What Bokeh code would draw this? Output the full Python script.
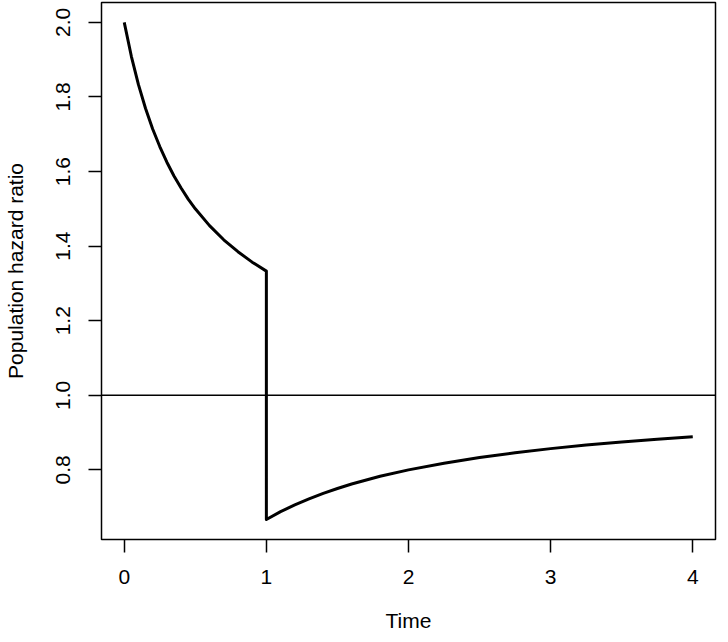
from bokeh.plotting import figure
from bokeh.models import Range1d, FixedTicker, Span
from bokeh.embed import file_html
from bokeh.resources import INLINE

# Population hazard ratio
time_vals = [0.0, 0.05, 0.1, 0.15, 0.2, 0.25, 0.3, 0.35, 0.4, 0.45, 0.5,
             0.6, 0.7, 0.8, 0.9, 1.0,
             1.0, 1.1, 1.2, 1.3, 1.4, 1.5, 1.6, 1.8, 2.0, 2.25, 2.5, 2.75,
             3.0, 3.25, 3.5, 3.75, 4.0]
hr_vals = [2.0, 1.909, 1.833, 1.769, 1.714, 1.667, 1.625, 1.588, 1.556, 1.526, 1.5,
           1.455, 1.417, 1.385, 1.357, 1.333,
           0.667, 0.688, 0.706, 0.722, 0.737, 0.75, 0.762, 0.783, 0.8, 0.818, 0.833, 0.846,
           0.857, 0.867, 0.875, 0.882, 0.889]
x_ticks = [0, 1, 2, 3, 4]
y_ticks = [0.8, 1.0, 1.2, 1.4, 1.6, 1.8, 2.0]
ref_level = 1.0

FONT = "Liberation Sans"

p = figure(width=720, height=634, output_backend="svg", toolbar_location=None,
           x_range=Range1d(-0.16, 4.16), y_range=Range1d(0.6133, 2.0533),
           min_border_left=100, min_border_right=5, min_border_top=2, min_border_bottom=93,
           background_fill_color="white", border_fill_color="white")

p.xgrid.visible = False
p.ygrid.visible = False
p.outline_line_color = "black"
p.outline_line_width = 1.5
p.outline_line_alpha = 1.0

for ax in (p.xaxis[0], p.yaxis[0]):
    ax.axis_line_color = None
    ax.major_tick_line_color = "black"
    ax.major_tick_line_width = 1.5
    ax.major_tick_out = 13
    ax.major_tick_in = 0
    ax.minor_tick_line_color = None
    ax.major_label_text_font = FONT
    ax.major_label_text_font_size = "21px"
    ax.major_label_text_color = "black"
    ax.axis_label_text_font = FONT
    ax.axis_label_text_font_size = "21px"
    ax.axis_label_text_font_style = "normal"
    ax.axis_label_text_color = "black"

p.xaxis[0].ticker = FixedTicker(ticks=x_ticks)
p.yaxis[0].ticker = FixedTicker(ticks=y_ticks)
p.yaxis[0].major_label_overrides = {v: f"{v:.1f}" for v in y_ticks}
p.xaxis[0].major_label_overrides = {v: str(v) for v in x_ticks}
p.yaxis[0].major_label_orientation = "vertical"
p.xaxis[0].major_label_standoff = 17
p.yaxis[0].major_label_standoff = 18
p.xaxis[0].axis_label = "Time"
p.yaxis[0].axis_label = "Population hazard ratio"
p.xaxis[0].axis_label_standoff = 22
p.yaxis[0].axis_label_standoff = 27

p.add_layout(Span(location=ref_level, dimension="width", line_color="black", line_width=1.5))
p.line(time_vals, hr_vals, line_color="black", line_width=3, line_join="round")

open("out.html", "w").write(file_html(p, INLINE))
